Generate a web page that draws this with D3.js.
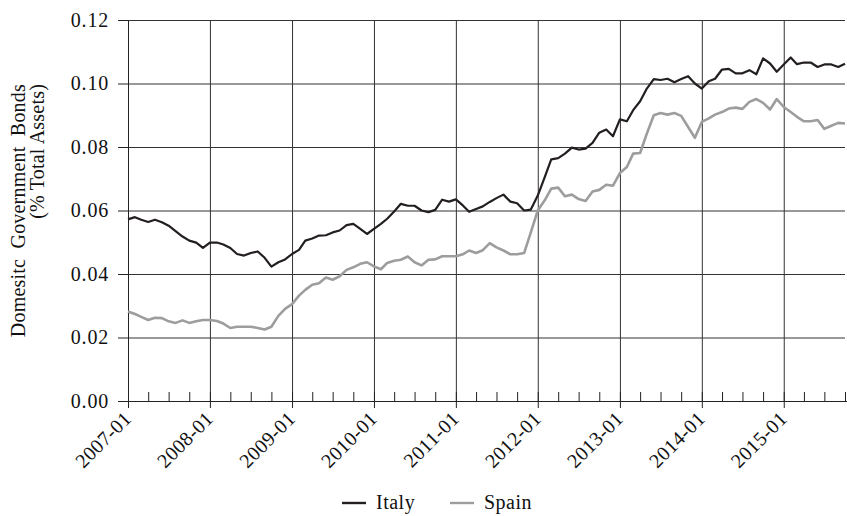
<!DOCTYPE html>
<html>
<head>
<meta charset="utf-8">
<script src="https://cdn.jsdelivr.net/npm/d3@7"></script>
<style>
  body { margin: 0; background: #fff; }
  svg { display: block; }
  svg text { font-family: "Liberation Serif", "DejaVu Serif", serif; }
  .axis path, .axis line { stroke: #222; }
  .grid line { stroke: #333; }
  .grid path { display: none; }
</style>
</head>
<body>
<div id="chart"></div>
<script>
// monthly series, first month 2007-01
const START_MONTH = "2007-01";
const italy = [
  0.0572, 0.0579, 0.0571, 0.0564, 0.0571, 0.0563, 0.0552, 0.0535, 0.0518, 0.0505, 0.0499, 0.0482,
  0.0499, 0.0499, 0.0493, 0.0482, 0.0463, 0.0458, 0.0466, 0.0471, 0.0451, 0.0423, 0.0437, 0.0446,
  0.0463, 0.0476, 0.0505, 0.0512, 0.0521, 0.0522, 0.0531, 0.0537, 0.0554, 0.0558, 0.0542, 0.0526,
  0.0542, 0.0558, 0.0574, 0.0597, 0.0621, 0.0615, 0.0615, 0.0600, 0.0595, 0.0602, 0.0634, 0.0628,
  0.0635, 0.0616, 0.0596, 0.0605, 0.0613, 0.0627, 0.0639, 0.0650, 0.0628, 0.0623, 0.0600, 0.0603,
  0.0647, 0.0705, 0.0761, 0.0765, 0.0779, 0.0798, 0.0792, 0.0795, 0.0813, 0.0845, 0.0855, 0.0834,
  0.0887, 0.0881, 0.0916, 0.0944, 0.0984, 0.1014, 0.1011, 0.1015, 0.1004, 0.1014, 0.1023, 0.1000,
  0.0984, 0.1007, 0.1015, 0.1044, 0.1046, 0.1032, 0.1032, 0.1042, 0.1029, 0.1079, 0.1063, 0.1037,
  0.1060, 0.1082, 0.1061, 0.1066, 0.1066, 0.1052, 0.1060, 0.1060, 0.1052, 0.1062
];
const spain = [
  0.0282, 0.0274, 0.0265, 0.0255, 0.0262, 0.0261, 0.0251, 0.0246, 0.0254, 0.0246, 0.0251, 0.0255,
  0.0255, 0.0252, 0.0244, 0.0230, 0.0234, 0.0234, 0.0234, 0.0230, 0.0225, 0.0234, 0.0268, 0.0290,
  0.0305, 0.0332, 0.0350, 0.0366, 0.0371, 0.0389, 0.0382, 0.0393, 0.0413, 0.0421, 0.0432, 0.0437,
  0.0424, 0.0415, 0.0435, 0.0442, 0.0445, 0.0455, 0.0437, 0.0427, 0.0445, 0.0446, 0.0456, 0.0456,
  0.0456, 0.0462, 0.0474, 0.0466, 0.0475, 0.0497, 0.0484, 0.0474, 0.0462, 0.0462, 0.0466, 0.0531,
  0.0600, 0.0632, 0.0669, 0.0672, 0.0645, 0.0650, 0.0636, 0.0630, 0.0660, 0.0665, 0.0681, 0.0678,
  0.0718, 0.0737, 0.0779, 0.0781, 0.0842, 0.0900, 0.0907, 0.0902, 0.0907, 0.0898, 0.0863, 0.0829,
  0.0879, 0.0890, 0.0902, 0.0910, 0.0921, 0.0924, 0.0920, 0.0942, 0.0951, 0.0939, 0.0918, 0.0951,
  0.0926, 0.0910, 0.0895, 0.0881, 0.0881, 0.0885, 0.0857, 0.0867, 0.0876, 0.0874
];
const yTicks = [0, 0.02, 0.04, 0.06, 0.08, 0.10, 0.12];
const xTickLabels = ["2007-01", "2008-01", "2009-01", "2010-01", "2011-01",
                     "2012-01", "2013-01", "2014-01", "2015-01"];
const seriesNames = ["Italy", "Spain"];
const seriesColors = ["#231f20", "#9d9d9d"];
const yLabelLines = ["Domesitc  Government  Bonds", "(% Total Assets)"];

const W = 847, H = 516;
const margin = { top: 20, right: 2, bottom: 115, left: 128 };
const FONT = "20px";

const parseMonth = d3.timeParse("%Y-%m");
const start = parseMonth(START_MONTH);
const dates = italy.map((_, i) => d3.timeMonth.offset(start, i));
const series = [italy, spain].map((vals, k) => ({
  name: seriesNames[k],
  color: seriesColors[k],
  values: vals.map((v, i) => ({ date: dates[i], value: v }))
}));

const svg = d3.select("#chart").append("svg")
  .attr("width", W).attr("height", H);

const plotW = W - margin.left - margin.right;
const plotH = H - margin.top - margin.bottom;

const x = d3.scaleTime()
  .domain([start, dates[dates.length - 1]])
  .range([0, plotW]);
const y = d3.scaleLinear().domain([0, 0.12]).range([plotH, 0]);

const g = svg.append("g")
  .attr("transform", `translate(${margin.left},${margin.top})`);

// grid lines
const yearTicks = xTickLabels.map(parseMonth);
g.append("g").attr("class", "grid")
  .call(d3.axisLeft(y).tickValues(yTicks).tickSize(-plotW).tickFormat(""));
g.append("g").attr("class", "grid")
  .attr("transform", `translate(0,${plotH})`)
  .call(d3.axisBottom(x).tickValues(yearTicks).tickSize(plotH).tickFormat(""))
  .selectAll("line").attr("y2", -plotH);

// quarterly minor ticks (inside)
g.append("g").attr("class", "axis")
  .attr("transform", `translate(0,${plotH})`)
  .call(d3.axisBottom(x).ticks(d3.timeMonth.every(3)).tickSize(-9).tickFormat(""))
  .select(".domain").remove();

// x axis
const xAxis = g.append("g").attr("class", "axis")
  .attr("transform", `translate(0,${plotH})`)
  .call(d3.axisBottom(x).tickValues(yearTicks).tickSize(7).tickSizeOuter(0)
    .tickFormat(d3.timeFormat("%Y-%m")))
  .attr("font-family", null).attr("font-size", null);
xAxis.select(".domain").attr("d", `M0,0.5H${plotW + 2}`);
xAxis.selectAll("text")
  .style("font-size", FONT)
  .style("letter-spacing", "0.4px")
  .attr("fill", "#111")
  .attr("text-anchor", "end")
  .attr("dy", null)
  .attr("y", 0)
  .attr("transform", "translate(4,19) rotate(-45)");

// y axis
const yAxis = g.append("g").attr("class", "axis")
  .call(d3.axisLeft(y).tickValues(yTicks).tickSize(10).tickSizeOuter(0).tickPadding(9)
    .tickFormat(d3.format(".2f")))
  .attr("font-family", null).attr("font-size", null);
yAxis.selectAll("text")
  .style("font-size", FONT)
  .style("letter-spacing", "0.8px")
  .attr("fill", "#111");

// lines
const line = d3.line().x(d => x(d.date)).y(d => y(d.value));
g.selectAll(".series")
  .data(series.slice().reverse())
  .join("path")
  .attr("class", "series")
  .attr("fill", "none")
  .attr("stroke", d => d.color)
  .attr("stroke-width", d => d.name === "Spain" ? 2.6 : 2.2)
  .attr("stroke-linejoin", "round")
  .attr("d", d => line(d.values));

// y label
svg.append("g")
  .attr("transform", "translate(25,84) rotate(-90)")
  .selectAll("text")
  .data(yLabelLines)
  .join("text")
  .attr("x", 0)
  .attr("y", (d, i) => i * 19)
  .attr("text-anchor", "end")
  .style("font-size", FONT)
  .style("letter-spacing", "0.2px")
  .style("white-space", "pre")
  .attr("fill", "#111")
  .text(d => d);

// legend
const legendX = [342, 450];
const legend = svg.append("g").attr("transform", "translate(0,503)");
series.forEach((s, i) => {
  legend.append("line")
    .attr("x1", legendX[i]).attr("x2", legendX[i] + 24)
    .attr("y1", 0).attr("y2", 0)
    .attr("stroke", s.color).attr("stroke-width", 2.4);
  legend.append("text")
    .attr("x", legendX[i] + 34).attr("y", 6)
    .style("font-size", FONT)
    .style("letter-spacing", "0.5px")
    .attr("fill", "#111")
    .text(s.name);
});
</script>
</body>
</html>
